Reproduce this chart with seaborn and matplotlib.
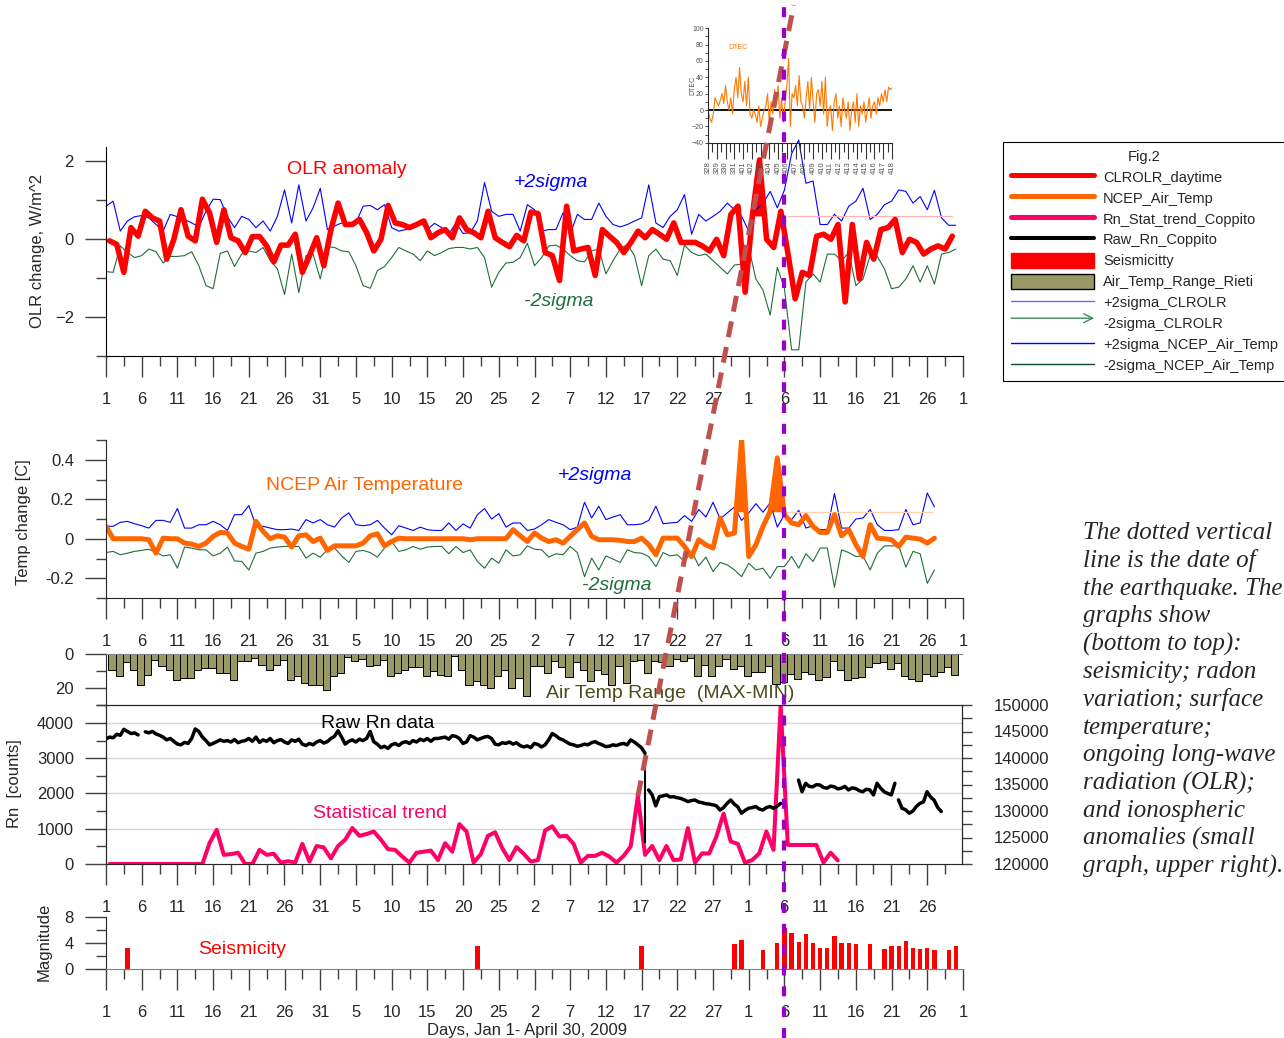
import numpy as np
import matplotlib
matplotlib.use("Agg")
import matplotlib.pyplot as plt
from matplotlib.lines import Line2D
from matplotlib.patches import Patch, FancyArrowPatch
import seaborn as sns

# ---------------------------------------------------------------- data
# day-of-year tick labels, Jan 1 .. May 1 2009 (every 5 days)
tick_days = np.arange(1, 122, 5)
day_labels = ["1", "6", "11", "16", "21", "26", "31", "5", "10", "15", "20", "25",
              "2", "7", "12", "17", "22", "27", "1", "6", "11", "16", "21", "26", "1"]

# OLR anomaly (daytime CLR OLR), daily, W/m^2, days 1..119 (plotted at midday)
olr_day = np.arange(1, 120)
olr = [-0.04, -0.13, -0.85, 0.30, 0.08, 0.72, 0.55, 0.47, -0.51, 0.00,
       0.76, 0.08, -0.04, 1.03, 0.68, -0.08, 0.76, 0.04, -0.04, -0.34,
       0.07, 0.07, -0.17, -0.58, -0.15, -0.15, 0.13, -0.85, -0.42, 0.04,
       -0.68, 0.25, 0.93, 0.38, 0.38, 0.51, 0.17, -0.30, 0.00, 0.87,
       0.42, 0.38, 0.30, 0.38, 0.47, 0.04, 0.17, 0.25, 0.04, 0.55,
       0.25, 0.17, 0.04, 0.72, 0.04, -0.08, -0.19, 0.10, -0.04, 0.70,
       0.66,
       -0.34, -0.42, -1.06, 0.85, -0.30, -0.25, -0.21, -0.93, 0.25, 0.08,
       -0.08, -0.34, -0.08, 0.21, 0.04, 0.25, 0.13, 0.00, 0.42, -0.08,
       -0.08, -0.08, -0.17, -0.30, 0.00, -0.42, 0.64, 0.85, -1.36, 0.59,
       2.04, 0.00, -0.21, 0.72, -0.38, -1.53, -0.85, -0.93, 0.08, 0.13,
       0.00, 0.38, -1.61, 0.38, -1.02, -0.08, -0.51, 0.25, 0.30, 0.51,
       -0.34, 0.00, -0.08, -0.38, -0.25, -0.17, -0.25, 0.08]

# OLR +/- 2 sigma envelopes, days 1..120
sig_day = np.arange(1, 121)
olr_p2 = [0.85, 0.98, 0.21, 0.47, 0.58, 0.61, 0.55, 0.38, 0.21, 0.64,
          0.58, 0.51, 0.42, 0.32, 0.72, 1.03, 1.02, 0.58, 0.30, 0.59,
          0.51, 0.30, 0.47, 0.21, 0.59, 1.27, 0.42, 1.40, 0.47, 0.81,
          1.31, 0.25, 0.34, 0.42, 0.38, 0.42, 0.85, 0.87, 0.76, 0.89,
          0.30, 0.21, 0.25, 0.32, 0.44, 0.25, 0.41, 0.30, 0.13, 0.42,
          0.15, 0.17, 0.47, 1.46, 0.72, 0.59, 0.64, 0.64, 0.21, 0.89,
          0.76,
          0.21, 0.25, 0.25, 0.68, 0.13, 0.64, 0.51, 0.51, 0.93, 0.59,
          0.38, 0.32, 0.38, 0.47, 0.55, 1.40, 0.42, 0.30, 0.59, 0.76,
          1.15, 0.13, 0.64, 0.47, 0.59, 0.72, 0.93, 0.76, 0.59, 0.21,
          0.76, 0.93, 1.23, 0.81, 1.27, 2.20, 2.55, 1.44, 1.50, 0.38,
          0.38, 0.64, 0.47, 0.85, 0.98, 1.31, 0.51, 0.64, 0.89, 0.98,
          1.27, 1.23, 0.93, 1.10, 0.76, 1.26, 0.55, 0.36, 0.36]
olr_m2 = [-0.83, -0.85, -0.17, -0.34, -0.47, -0.42, -0.25, -0.32, -0.61, -0.44,
          -0.44, -0.42, -0.32, -0.68, -1.19, -1.27, -0.36, -0.30, -0.70, -0.38,
          -0.30, -0.34, -0.21, -0.55, -0.76, -1.42, -0.38, -1.37, -0.42, -0.38,
          -1.02, -0.19, -0.21, -0.30, -0.32, -0.68, -1.19, -1.26, -0.81, -0.70,
          -0.47, -0.21, -0.30, -0.38, -0.55, -0.30, -0.42, -0.34, -0.24, -0.21,
          -0.21, -0.25, -0.21, -0.47, -1.23, -0.85, -0.61, -0.59, -0.47, -0.10,
          -0.68,
          -0.47, -0.17, -0.15, -0.25, -0.42, -0.55, -0.58, -0.30, -0.25, -0.89,
          -0.55, -0.25, -0.13, -0.42, -1.19, -0.42, -0.25, -0.51, -0.55, -0.93,
          -0.15, -0.34, -0.42, -0.38, -0.55, -0.72, -0.89, -0.66, -0.64, -0.21,
          -1.02, -1.31, -1.95, -0.72, -1.27, -2.84, -2.84, -1.10, -0.89, -1.10,
          -0.38, -0.38, -0.55, -0.34, -1.19, -1.02, -0.42, -0.44, -0.76, -1.27,
          -1.23, -1.02, -0.68, -1.10, -0.68, -1.15, -0.38, -0.34, -0.25]
olr_limit = 0.60
olr_limit_days = [96.5, 119.5]

# NCEP air temperature anomaly and +/- 2 sigma, days 1..117
temp_day = np.arange(1, 118)
temp = [0.063, 0.0, 0.0, 0.0, 0.0, 0.0, -0.005, -0.073, 0.003, 0.0,
        0.0, -0.022, -0.027, -0.039, -0.022, 0.012, 0.032, 0.029, -0.022, -0.039,
        -0.053, 0.088, 0.037, 0.0, 0.015, 0.008, -0.042, 0.015, 0.02, -0.014,
        0.003, -0.059, -0.036, -0.036, -0.036, -0.036, -0.022, 0.015, 0.025, -0.036,
        -0.014, 0.003, 0.0, 0.0, 0.0, 0.0, 0.0, 0.0, 0.0, 0.0,
        0.0, -0.005, 0.0, 0.0, 0.0, 0.0, 0.0, 0.046, 0.015, -0.014,
        0.029,
        0.003, -0.014, -0.005, -0.022, 0.012, 0.046, 0.08, 0.012, -0.005, -0.005,
        -0.005, -0.008, -0.014, -0.014, 0.003, -0.03, -0.081, 0.003, 0.003, 0.003,
        -0.039, -0.09, -0.005, -0.031, -0.047, 0.105, 0.02, 0.029, 0.504, -0.09,
        -0.03, 0.063, 0.139, 0.41, 0.122, 0.08, 0.071, 0.117, 0.063, 0.032,
        0.032, 0.122, 0.015, 0.046, -0.03, -0.09, 0.071, 0.003, 0.0, -0.005,
        -0.039, 0.008, 0.003, -0.002, -0.022, 0.003]
temp_p2 = [0.063, 0.063, 0.083, 0.088, 0.076, 0.066, 0.054, 0.093, 0.093, 0.083,
           0.153, 0.054, 0.054, 0.071, 0.071, 0.088, 0.071, 0.042, 0.122, 0.122,
           0.168, 0.066, 0.063, 0.054, 0.046, 0.046, 0.049, 0.042, 0.097, 0.08,
           0.097, 0.071, 0.059, 0.105, 0.131, 0.071, 0.066, 0.071, 0.093, 0.054,
           0.02, 0.066, 0.054, 0.042, 0.059, 0.046, 0.042, 0.042, 0.08, 0.042,
           0.075, 0.054, 0.122, 0.153, 0.1, 0.127, 0.059, 0.08, 0.08, 0.042,
           0.049,
           0.071, 0.097, 0.083, 0.071, 0.046, 0.059, 0.185, 0.105, 0.165, 0.097,
           0.11, 0.122, 0.071, 0.071, 0.075, 0.093, 0.165, 0.076, 0.08, 0.083,
           0.117, 0.088, 0.148, 0.11, 0.185, 0.1, 0.131, 0.161, 0.093, 0.131,
           0.178, 0.134, 0.182, 0.059, 0.122, 0.097, 0.144, 0.054, 0.066, 0.046,
           0.046, 0.229, 0.054, 0.054, 0.1, 0.105, 0.148, 0.071, 0.042, 0.042,
           0.046, 0.148, 0.071, 0.08, 0.232, 0.161]
temp_m2 = [-0.07, -0.064, -0.081, -0.073, -0.064, -0.059, -0.053, -0.07, -0.087, -0.081,
           -0.149, -0.042, -0.047, -0.056, -0.056, -0.087, -0.073, -0.042, -0.112, -0.115,
           -0.158, -0.073, -0.064, -0.047, -0.042, -0.039, -0.039, -0.039, -0.098, -0.073,
           -0.093, -0.056, -0.047, -0.087, -0.12, -0.064, -0.059, -0.07, -0.093, -0.047,
           -0.014, -0.064, -0.056, -0.039, -0.053, -0.042, -0.039, -0.039, -0.076, -0.039,
           -0.07, -0.056, -0.115, -0.149, -0.098, -0.124, -0.056, -0.087, -0.081, -0.036,
           -0.053,
           -0.056, -0.093, -0.076, -0.081, -0.039, -0.07, -0.192, -0.098, -0.158, -0.087,
           -0.103, -0.12, -0.056, -0.07, -0.073, -0.09, -0.141, -0.07, -0.087, -0.081,
           -0.115, -0.064, -0.137, -0.093, -0.166, -0.12, -0.132, -0.158, -0.192, -0.124,
           -0.158, -0.149, -0.2, -0.141, -0.141, -0.09, -0.149, -0.076, -0.115, -0.047,
           -0.047, -0.246, -0.056, -0.07, -0.09, -0.087, -0.158, -0.073, -0.036, -0.036,
           -0.036, -0.144, -0.064, -0.076, -0.226, -0.158]
temp_limit = 0.134
temp_limit_days = [96.3, 116.6]

# daily air temperature range (MAX-MIN), Rieti, days 1..119
range_day = np.arange(1, 120)
air_range = [9.3, 13.2, 4.9, 9.3, 18.1, 12.2, 3.5, 6.8, 9.3, 15.1,
             14.2, 14.2, 9.3, 8.2, 8.2, 11.3, 11.3, 15.1, 4.3, 4.3,
             2.3, 6.4, 9.3, 6.4, 3.5, 15.1, 13.2, 17.1, 18.1, 18.1,
             21.0, 13.2, 11.3, 1.6, 4.3, 2.9, 6.8, 6.2, 3.5, 13.2,
             11.3, 9.3, 7.4, 7.8, 13.2, 10.1, 12.2, 13.2, 1.0, 9.3,
             18.1, 16.1, 18.1, 20.0, 13.2, 9.3, 20.0, 14.2, 24.8, 6.8,
             6.8, 11.3, 3.9, 7.8, 13.6, 4.9, 9.7, 15.9, 9.3, 11.6,
             18.1, 6.8, 17.1, 3.9, 3.5, 11.1, 3.9, 4.9, 6.8, 2.9,
             3.9, 2.3, 13.2, 6.4, 13.2, 6.8, 2.9, 8.7, 6.8, 13.2,
             10.3, 10.3, 6.8, 17.5, 16.5, 11.6, 14.6, 10.7, 11.6, 15.1,
             13.6, 4.3, 9.7, 15.5, 14.0, 13.6, 7.8, 5.4, 4.9, 8.7,
             5.4, 13.2, 14.6, 15.9, 11.6, 13.2, 10.7, 7.8, 12.6]

# radon, Coppito: statistical trend (daily, plotted at midday)
trend_day = np.arange(1, 104)
rn_trend = [0, 0, 0, 0, 0, 0, 0, 0, 0, 0, 0, 0, 0, 0,
            590, 970, 260, 280, 320, 0, 0, 400, 260, 290,
            40, 80, 40, 570, 70, 510, 470, 160, 510, 690,
            1020, 800, 850, 920, 690, 420, 400, 210, 40, 320,
            350, 380, 110, 590, 350, 1130, 920, 40, 280, 800,
            900, 450, 110, 480, 290, 70, 110, 950, 1070, 780,
            800, 570, 40, 230, 230, 320, 210, 40, 230, 500,
            1920, 260, 510, 110, 510, 110, 130, 1020, 40, 300,
            300, 780, 1430, 640, 570, 40, 110, 300, 920, 400,
            4500, 540, 540, 540, 540, 540, 40, 320, 100]

# raw radon counts, half-day samples, in five recorded stretches
raw_step = 0.5
raw_start = [1.0, 6.5, 77.0, 98.0, 112.0]
raw_seg1 = [3550, 3600, 3580, 3680, 3650, 3820, 3760, 3700, 3720, 3660]
raw_seg2 = [3750, 3720, 3760, 3690, 3650, 3600, 3520, 3560, 3480, 3400,
            3380, 3450, 3420, 3560, 3830, 3760, 3600, 3500, 3380, 3420,
            3470, 3520, 3480, 3500, 3460, 3530, 3440, 3480, 3500, 3560,
            3480, 3600, 3450, 3520, 3480, 3560, 3440, 3500, 3530, 3460,
            3420, 3520, 3480, 3540, 3400, 3360, 3420, 3380, 3460, 3500,
            3430, 3470, 3560, 3620, 3780, 3600, 3400, 3480, 3520, 3460,
            3540, 3500, 3560, 3760, 3470, 3400, 3300, 3340, 3280, 3380,
            3420, 3360, 3440, 3470, 3420, 3500, 3460, 3540, 3500, 3560,
            3480, 3560, 3560, 3580, 3600, 3540, 3640, 3620, 3560, 3420,
            3460, 3640, 3600, 3520, 3560, 3600, 3620, 3560, 3400, 3380,
            3440, 3420, 3460, 3400, 3440, 3360, 3320, 3350, 3300, 3420,
            3390,
            3320, 3380, 3520, 3700, 3640, 3560, 3520, 3460, 3400, 3380,
            3340, 3360, 3400, 3380, 3440, 3470, 3420, 3380, 3330, 3340,
            3380, 3360, 3400, 3420, 3380, 3520, 3460, 3380, 3300, 3140]
raw_seg3 = [2100, 1960, 1650, 1910, 1930, 1960, 1900, 1910, 1880, 1860,
            1820, 1770, 1800, 1815, 1760, 1740, 1710, 1700, 1680, 1650,
            1530, 1600, 1720, 1815, 1700, 1620, 1440, 1520, 1580, 1600,
            1630, 1560, 1530, 1600, 1630, 1580, 1640, 1720]
raw_seg4 = [2380, 2050, 2290, 2200, 2190, 2250, 2240, 2170, 2150, 2210,
            2190, 2130, 2150, 2200, 2100, 2160, 2140, 2080, 2050, 2120,
            2100, 1960, 2290, 2150, 2050, 2000, 1960, 2290]
raw_seg5 = [1820, 1580, 1540, 1440, 1500, 1630, 1720, 1760, 2050, 1900,
            1810, 1600, 1490]
raw_segments = [raw_seg1, raw_seg2, raw_seg3, raw_seg4, raw_seg5]
raw_drop_day = 76.5
raw_drop = [590, 3140]

# seismicity: event day and magnitude
seis_day = [4, 53, 76, 89, 90, 93, 95, 96, 97, 98, 99, 100, 101, 102, 103,
            104, 105, 106, 108, 110, 111, 112, 113, 114, 115, 116, 117, 119, 120]
seis_mag = [3.2, 3.5, 3.5, 3.8, 4.4, 2.9, 4.0, 6.3, 5.6, 4.1, 5.4, 4.0, 3.3, 3.3, 5.1,
            4.0, 4.0, 3.8, 3.8, 3.1, 3.5, 3.5, 4.3, 3.2, 3.1, 3.3, 2.9, 2.9, 3.5]

# ionospheric DTEC, Mar 28 .. Apr 18 (days since Mar 28)
tec_step = 0.2
dtec = [0, -10, -15, -5, 15, 10, 5, 12, 20, 8,
        30, 10, 0, 15, -5, 25, 40, 15, 52, 20,
        10, 35, 5, 40, -5, -10, 0, -5, -15, 5,
        -20, -10, 0, 5, 20, -15, 10, -5, 25, 5,
        30, -10, 15, -15, 10, 30, 63, -20, 20, 15,
        30, 5, 42, 10, 5, -10, 15, 35, 0, 40,
        10, -15, 20, 25, 5, 35, -5, 40, -20, 0,
        5, -25, 10, 20, -10, 5, -20, 15, 0, -10,
        10, -25, 0, 10, -15, 20, -20, 5, -5, 10,
        -15, 0, 15, -10, 5, 10, -5, 15, 5, 20,
        10, 25, 10, 28, 25, 27]
tec_labels = ["328", "329", "330", "331", "401", "402", "403", "404", "405", "406", "407",
              "408", "409", "410", "411", "412", "413", "414", "415", "416", "417", "418"]

quake_day = 96          # April 6
precursor_day = 75      # radon trend peak, March 16

# ---------------------------------------------------------------- style
sns.set_style("ticks")
plt.rcParams["font.family"] = ["Liberation Sans", "DejaVu Sans"]
plt.rcParams["axes.linewidth"] = 0.8

RED, ORANGE, PINK = "#ff0000", "#ff6600", "#ff0066"
BLUE, GREEN = "#0000ff", "#1f6e3c"
OLIVE = "#999966"
TICK_C = "#404040"
PX = 0.72  # points per pixel at 100 dpi

W, H = 1284, 1038
fig = plt.figure(figsize=(W / 100, H / 100), dpi=100)


def px_axes(left, top, right, bottom):
    ax = fig.add_axes([left / W, 1 - bottom / H, (right - left) / W, (bottom - top) / H])
    ax.set_facecolor("none")
    return ax


def ftext(x, y, s, **kw):
    kw.setdefault("ha", "center")
    kw.setdefault("va", "center")
    fig.text(x / W, 1 - y / H, s, **kw)


def day_axis(ax, lo, hi):
    ax.set_xticks(tick_days)
    ax.set_xticklabels(day_labels)
    ax.set_xticks(tick_days[:-1] + 2.5, minor=True)
    ax.set_xlim(lo, hi)
    ax.tick_params(axis="x", which="major", direction="out", length=21 * PX, width=1,
                   color=TICK_C, pad=11, labelsize=12)
    ax.tick_params(axis="x", which="minor", direction="out", length=10 * PX, width=1,
                   color=TICK_C)


def left_axis(ax, major, minor):
    ax.set_yticks(major)
    ax.set_yticks(minor, minor=True)
    ax.tick_params(axis="y", which="major", direction="out", length=21 * PX, width=1,
                   color=TICK_C, pad=8, labelsize=12)
    ax.tick_params(axis="y", which="minor", direction="out", length=10 * PX, width=1,
                   color=TICK_C)


def line(ax, x, y, color, lw, **kw):
    sns.lineplot(x=np.asarray(x, float), y=np.asarray(y, float), ax=ax, color=color,
                 linewidth=lw, estimator=None, legend=False, errorbar=None, **kw)


# ---------------------------------------------------------------- OLR panel
ax_olr = px_axes(106, 146.7, 963, 356)
line(ax_olr, sig_day, olr_p2, BLUE, 0.8, clip_on=False)
line(ax_olr, sig_day, olr_m2, GREEN, 0.8)
olr_x = olr_day + 0.5
olr_y = np.asarray(olr)
ax_olr.fill_between(olr_x, olr_y, olr_limit,
                    where=(olr_x > 90) & (olr_x < 94) & (olr_y > olr_limit),
                    interpolate=True, color=RED, lw=0)
ax_olr.plot(olr_limit_days, [olr_limit, olr_limit], color="#ffb3b3", lw=0.9)
line(ax_olr, olr_x, olr_y, RED, 4.0)
ax_olr.set_ylim(-3, 2.38)
day_axis(ax_olr, 1, 121)
left_axis(ax_olr, [-2, 0, 2], [-3, -1, 1])
sns.despine(ax=ax_olr)
ax_olr.spines["left"].set_color("black")
ax_olr.spines["bottom"].set_color("black")

# ---------------------------------------------------------------- temperature panel
ax_t = px_axes(106, 440, 963, 598)
line(ax_t, temp_day, temp_p2, BLUE, 0.8)
line(ax_t, temp_day, temp_m2, GREEN, 0.8)
ty = np.asarray(temp)
ax_t.fill_between(temp_day, ty, temp_limit,
                  where=(temp_day > 87) & (temp_day < 97) & (ty > temp_limit),
                  interpolate=True, color=ORANGE, lw=0)
ax_t.plot(temp_limit_days, [temp_limit, temp_limit], color="#ffd0b0", lw=0.9)
line(ax_t, temp_day, ty, ORANGE, 3.6)
ax_t.set_ylim(-0.3, 0.5)
day_axis(ax_t, 1, 121)
left_axis(ax_t, [-0.2, 0, 0.2, 0.4], [-0.3, -0.1, 0.1, 0.3, 0.5])
ax_t.set_yticklabels(["-0.2", "0", "0.2", "0.4"])
sns.despine(ax=ax_t)

rn_hi = 120.9

# ---------------------------------------------------------------- air temperature range bars
ax_b = px_axes(106, 654, 962, 705)
ax_b.bar(range_day + 0.35, air_range, width=1.0, align="edge", color=OLIVE,
         edgecolor="black", linewidth=0.7)
ax_b.set_ylim(30, 0)
ax_b.set_xlim(1, rn_hi)
left_axis(ax_b, [0, 20], [10, 30])
ax_b.tick_params(axis="x", which="both", bottom=False, top=False,
                 labelbottom=False, labeltop=False)
for s in ("right", "bottom"):
    ax_b.spines[s].set_visible(False)
ax_b.spines["top"].set_color("#808080")

# ---------------------------------------------------------------- radon panel
ax_rn = px_axes(106, 705, 962, 864)
ax_rn.set_ylim(0, 4510)
for g in (1000, 2000, 3000, 4000):
    ax_rn.axhline(g, color="#d4d4d4", lw=1, zorder=0)
line(ax_rn, trend_day + 0.5, rn_trend, PINK, 2.9)
for start, seg in zip(raw_start, raw_segments):
    x = start + raw_step * np.arange(len(seg))
    line(ax_rn, x, seg, "black", 2.5)
ax_rn.vlines(raw_drop_day, raw_drop[0], raw_drop[1], color="black", lw=1.5)
day_axis(ax_rn, 1, rn_hi)
left_axis(ax_rn, [0, 1000, 2000, 3000, 4000], [500, 1500, 2500, 3500, 4500])
ax_rn.spines["bottom"].set_color("#808080")
ax_rn.spines["top"].set_color("black")
ax_rn2 = ax_rn.twinx()
ax_rn2.set_ylim(120000, 150000)
ax_rn2.set_yticks(np.arange(120000, 150001, 5000))
ax_rn2.set_yticks(np.arange(122500, 150000, 5000), minor=True)
ax_rn2.tick_params(axis="y", which="both", direction="out", length=10 * PX, width=1,
                   color=TICK_C, pad=16, labelsize=12)

# ---------------------------------------------------------------- seismicity panel
ax_s = px_axes(106, 917, 963, 969)
ax_s.bar(seis_day, seis_mag, width=0.6, color=RED, edgecolor="none")
ax_s.set_ylim(0, 8)
day_axis(ax_s, 1, 121)
left_axis(ax_s, [0, 4, 8], [2, 6])
sns.despine(ax=ax_s)
ax_s.spines["bottom"].set_color("#808080")

# ---------------------------------------------------------------- ionospheric inset
ax_i = px_axes(708, 28.3, 892, 142.7)
tx = tec_step * np.arange(len(dtec))
ax_i.axhline(0, color="black", lw=1.3)
line(ax_i, tx, dtec, "#ff7700", 0.8)
ax_i.set_ylim(-40, 100)
ax_i.set_xticks(np.arange(0, 22))
ax_i.set_xticklabels(tec_labels, rotation=90)
ax_i.set_xticks(np.arange(0.5, 21, 1), minor=True)
ax_i.set_xlim(0, 21)
ax_i.set_yticks(np.arange(-40, 101, 20))
ax_i.set_yticks(np.arange(-30, 100, 20), minor=True)
ax_i.tick_params(axis="x", which="major", length=16 * PX, width=0.8, color="#333333",
                 labelsize=5.5, labelcolor="#555555", pad=2)
ax_i.tick_params(axis="x", which="minor", length=9 * PX, width=0.8, color="#333333")
ax_i.tick_params(axis="y", which="both", length=3 * PX, width=0.6, color="#333333",
                 labelsize=5, labelcolor="#555555", pad=1)
sns.despine(ax=ax_i)
ax_i.text(0.16, 0.83, "DTEC", transform=ax_i.transAxes, color="#ff7700", fontsize=5,
          ha="center", va="center")
ftext(693, 85, "DTEC", rotation=90, fontsize=5, color="#555555")

# ---------------------------------------------------------------- labels and annotations
ftext(38, 251, "OLR change, W/m^2", rotation=90, fontsize=12)
ftext(24, 522, "Temp change [C]", rotation=90, fontsize=12)
ftext(15, 784, "Rn  [counts]", rotation=90, fontsize=12)
ftext(44, 942, "Magnitude", rotation=90, fontsize=12)

ftext(347, 170, "OLR anomaly", color=RED, fontsize=14)
ftext(551, 183, "+2sigma", color=BLUE, fontsize=14, style="italic")
ftext(559, 302, "-2sigma", color=GREEN, fontsize=14, style="italic")
ftext(365, 486, "NCEP Air Temperature", color=ORANGE, fontsize=14)
ftext(595, 476, "+2sigma", color=BLUE, fontsize=14, style="italic")
ftext(617, 585, "-2sigma", color=GREEN, fontsize=14, style="italic")
ftext(670, 694, "Air Temp Range  (MAX-MIN)", color="#4a4a1a", fontsize=14)
ftext(378, 723, "Raw Rn data", color="black", fontsize=14)
ftext(380, 814, "Statistical trend", color=PINK, fontsize=14)
ftext(242, 949, "Seismicity", color=RED, fontsize=14)
ftext(527, 1030, "Days, Jan 1- April 30, 2009", fontsize=12)

note = ["The dotted vertical", "line is the date of", "the earthquake. The",
        "graphs show", "(bottom to top):", "seismicity; radon",
        "variation; surface", "temperature;", "ongoing long-wave",
        "radiation (OLR);", "and ionospheric", "anomalies (small",
        "graph, upper right)."]
for i, s in enumerate(note):
    ftext(1083, 539 + i * 27.8, s, ha="left", va="baseline", fontsize=18,
          family=["Liberation Serif", "DejaVu Serif"], style="italic")

# ---------------------------------------------------------------- legend
class ArrowHandler:
    def legend_artist(self, legend, orig_handle, fontsize, handlebox):
        x0, y0 = handlebox.xdescent, handlebox.ydescent
        w, h = handlebox.width, handlebox.height
        arr = FancyArrowPatch((x0, y0 + h / 2), (x0 + w, y0 + h / 2), arrowstyle="->",
                              mutation_scale=16, color=orig_handle.get_color(), lw=1,
                              shrinkA=0, shrinkB=0, transform=handlebox.get_transform())
        handlebox.add_artist(arr)
        return arr


arrow_handle = Line2D([], [], color="#3c8c5a", lw=1)
handles = [Line2D([], [], color=RED, lw=3.6),
           Line2D([], [], color=ORANGE, lw=3.6),
           Line2D([], [], color=PINK, lw=3.6),
           Line2D([], [], color="black", lw=2.9),
           Patch(facecolor=RED, edgecolor=RED),
           Patch(facecolor=OLIVE, edgecolor="black", linewidth=1),
           Line2D([], [], color="#6666ff", lw=1),
           arrow_handle,
           Line2D([], [], color=BLUE, lw=1),
           Line2D([], [], color="#0b4d2b", lw=1)]
labels = ["CLROLR_daytime", "NCEP_Air_Temp", "Rn_Stat_trend_Coppito", "Raw_Rn_Coppito",
          "Seismicitty", "Air_Temp_Range_Rieti", "+2sigma_CLROLR", "-2sigma_CLROLR",
          "+2sigma_NCEP_Air_Temp", "-2sigma_NCEP_Air_Temp"]
leg = fig.legend(handles, labels, loc="upper left",
                 bbox_to_anchor=(1003 / W, 1 - 141.7 / H), title="Fig.2",
                 handler_map={arrow_handle: ArrowHandler()},
                 frameon=True, fancybox=False, edgecolor="black", framealpha=1,
                 fontsize=10.5, title_fontsize=10.5, handlelength=5.7, handleheight=1.2,
                 labelspacing=0.38, handletextpad=0.6, borderpad=0.55, borderaxespad=0)
leg.get_frame().set_linewidth(0.8)

# ---------------------------------------------------------------- quake marker and precursor trend line
qx = ax_olr.transData.transform((quake_day, 0))[0]
fig.add_artist(Line2D([qx / W, qx / W], [0, 1], transform=fig.transFigure,
                      color="#9900cc", lw=3.0, dashes=(2.4, 2.6), zorder=10))
p0 = ax_rn.transData.transform((precursor_day + 0.5, rn_trend[precursor_day - 1]))
p1 = (p0[0] + 0.197 * (H - 5 - p0[1]), H - 5)
fig.add_artist(Line2D([p0[0] / W, p1[0] / W], [p0[1] / H, p1[1] / H],
                      transform=fig.transFigure, color="#c0504d", lw=3.6,
                      dashes=(3.2, 2.0), zorder=9))

fig.savefig("out.png", dpi=100)
